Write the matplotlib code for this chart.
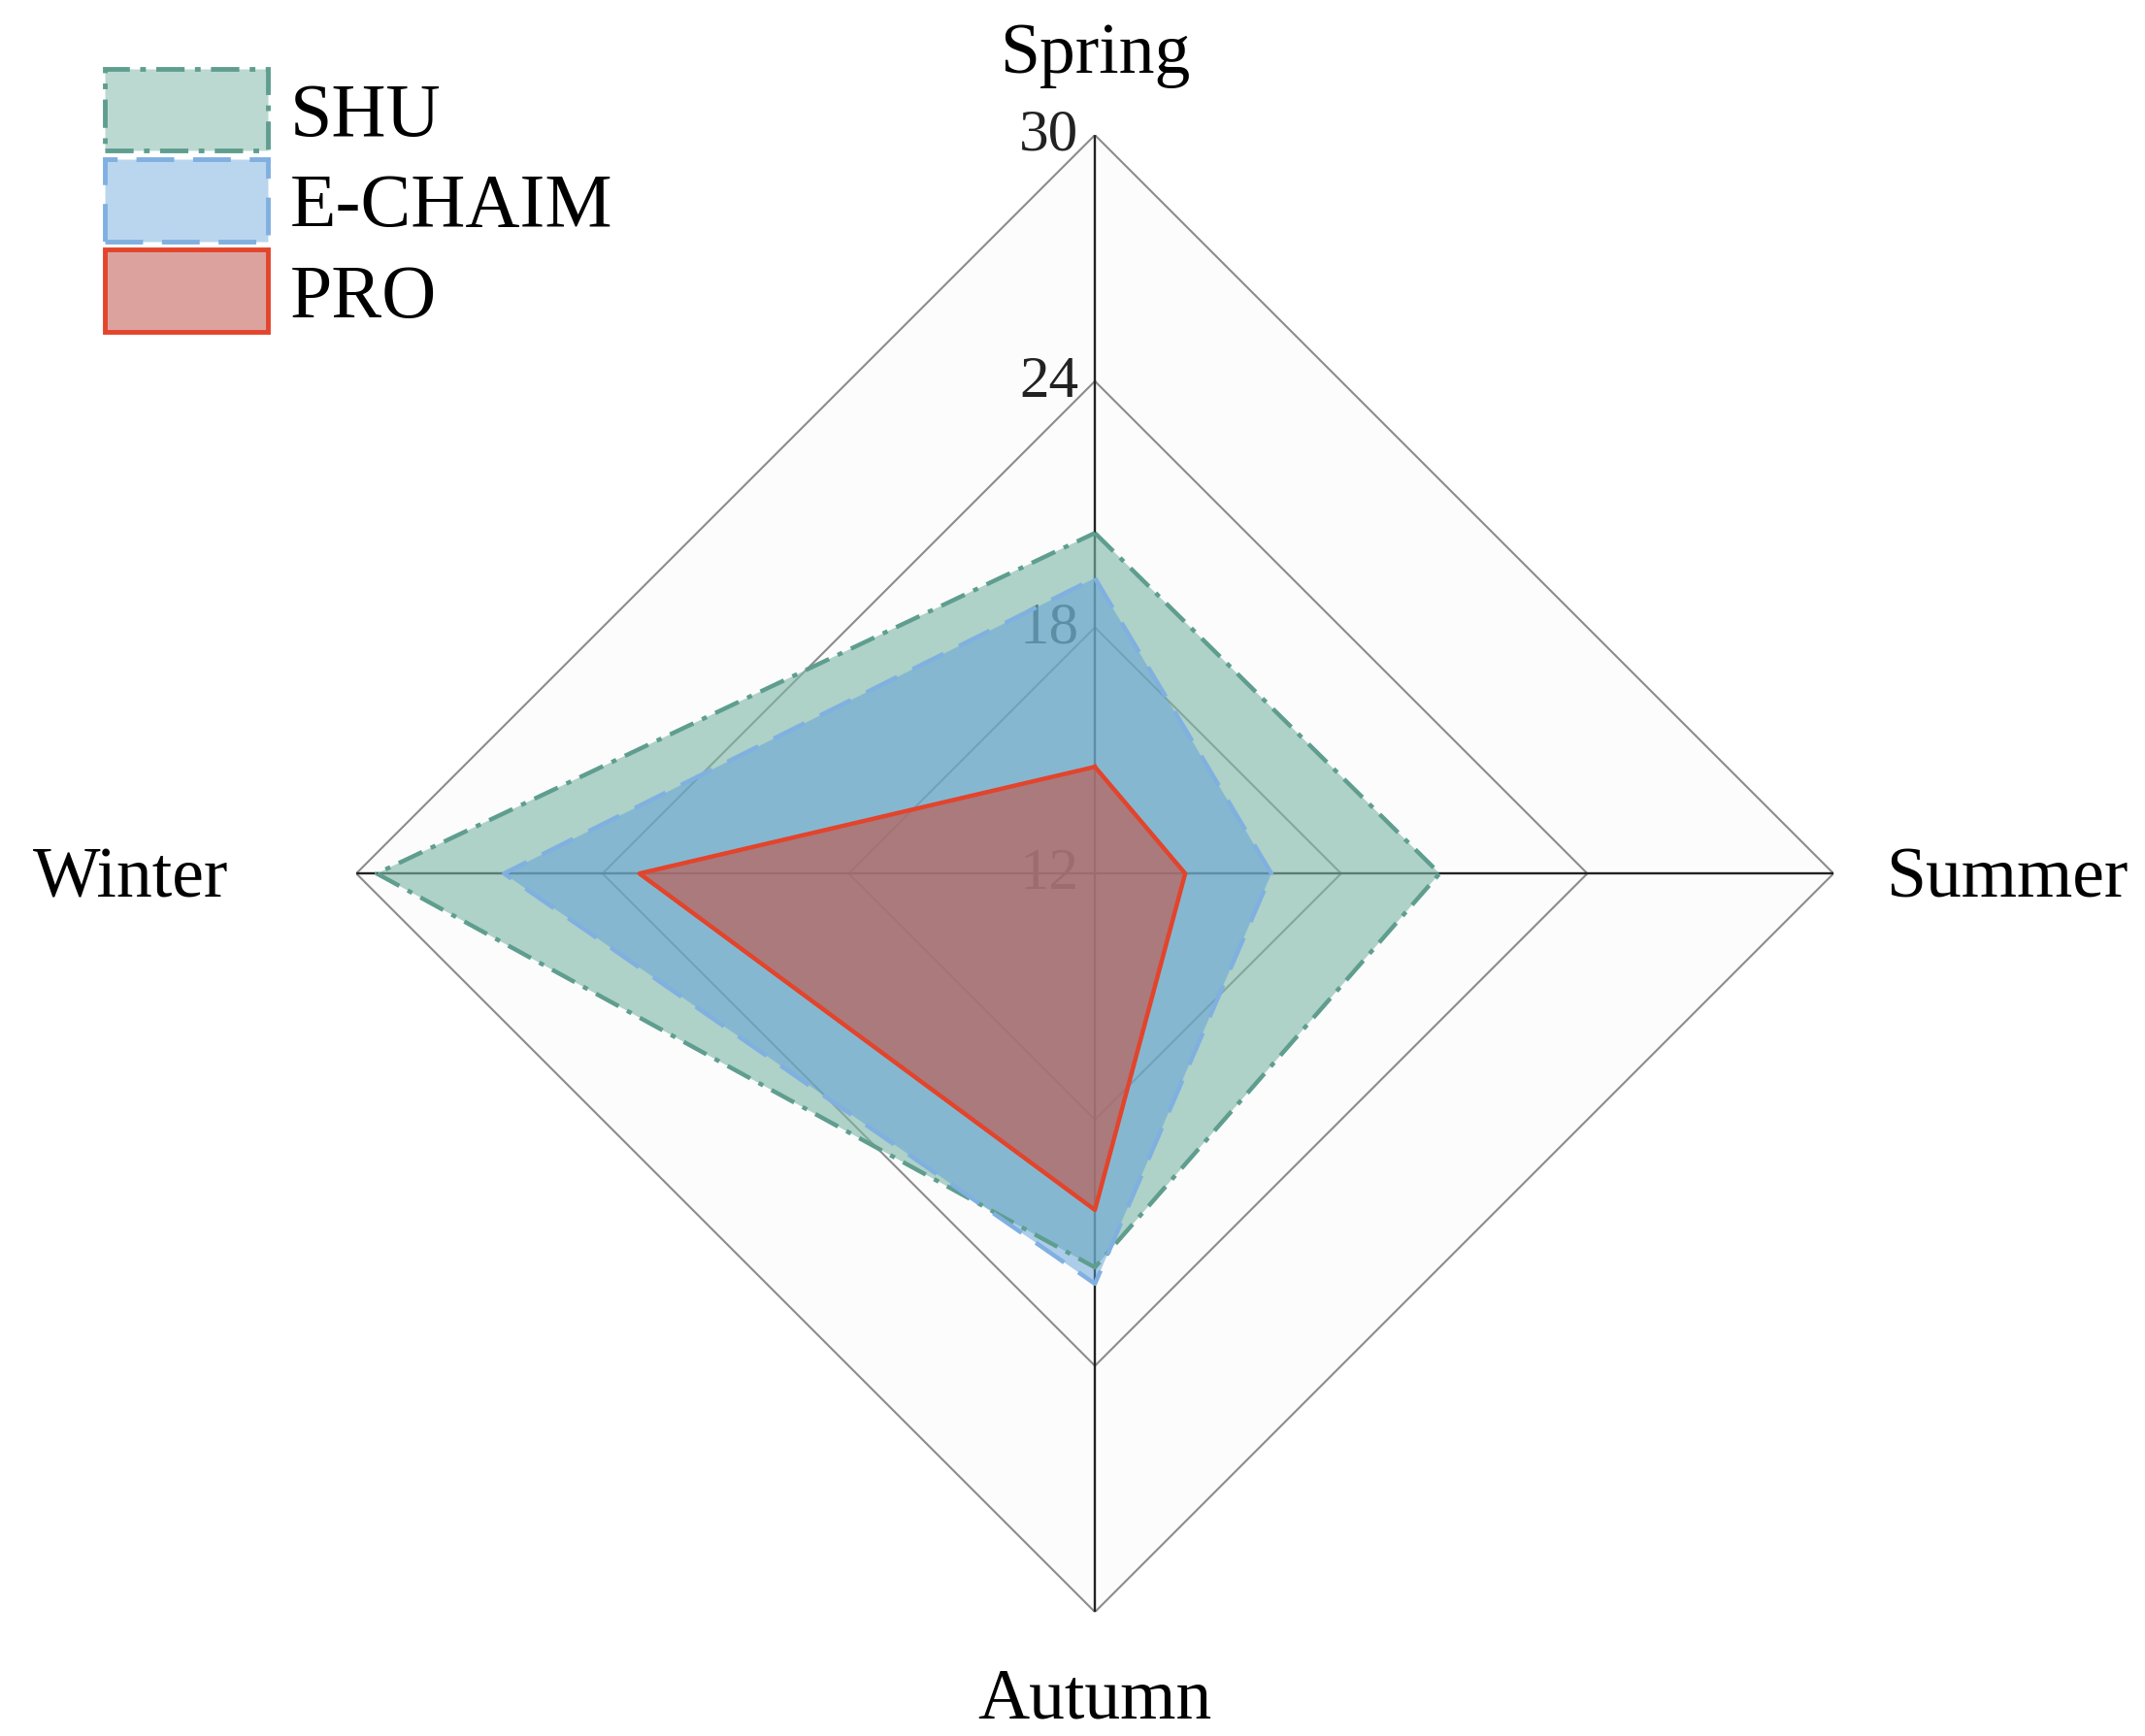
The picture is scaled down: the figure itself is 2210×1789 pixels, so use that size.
import numpy as np
import matplotlib.pyplot as plt
from matplotlib.patches import Patch
from matplotlib.colors import to_rgba

plt.rcParams['font.family'] = ['Liberation Serif', 'DejaVu Serif']

# data
seasons = ['Spring', 'Summer', 'Autumn', 'Winter']
shu = [20.3, 20.4, 21.6, 29.5]
echaim = [19.2, 16.3, 22.0, 26.4]
pro = [14.6, 14.2, 20.2, 23.1]
ring_values = [12, 18, 24, 30]

angles = np.linspace(0, 2 * np.pi, len(seasons), endpoint=False)
closed = np.append(angles, angles[0])

fig = plt.figure(figsize=(22.1, 17.9), dpi=100)
ax = fig.add_axes([0.1661, 0.0714, 0.6887, 0.8503], projection='polar')
ax.set_theta_zero_location('N')
ax.set_theta_direction(-1)
ax.set_rlim(12, 30)
ax.grid(False)
ax.set_xticks([])
ax.set_yticks([])
ax.spines['polar'].set_visible(False)
ax.patch.set_visible(False)

# faint background inside the outer ring
ax.fill(closed, [30] * len(closed), color='#fcfcfc', zorder=0)

# polygon rings
for r in ring_values[1:]:
    ax.plot(closed, [r] * len(closed), color='#8c8c8c', lw=1.5, zorder=1)

# spokes
for a in angles:
    ax.plot([a, a], [12, 30], color='#222222', lw=1.7, zorder=1)

# radial tick labels along the Spring axis (under the fills)
for r in ring_values:
    ax.annotate(str(r), xy=(0, r), xytext=(-12, 0), textcoords='offset points',
                ha='right', va='center', fontsize=44, color='#222222', zorder=1)

# series: name, values, fill, alpha, edge, dash pattern
series = [
    ('SHU', shu, '#7fb8a8', 0.62, '#5f9e8f', (0, (6, 2.2, 1.2, 2.2))),
    ('E-CHAIM', echaim, '#5da0d8', 0.5, '#7fb0e0', (0, (8, 4))),
    ('PRO', pro, '#c05a50', 0.65, '#e2442c', '-'),
]
handles = []
for name, vals, fc, alpha, ec, ls in series:
    v = np.append(vals, vals[0])
    ax.fill(closed, v, color=to_rgba(fc, alpha), lw=0, zorder=2)
    ax.plot(closed, v, color=ec, lw=3.2, ls=ls, zorder=3)
    handles.append(Patch(facecolor=to_rgba(fc, alpha * 0.85), edgecolor=ec, linestyle=ls,
                         linewidth=3.5, label=name))

# season labels
label_offsets = {
    'Spring': ((0, 47), 'center'),
    'Summer': ((39, -17), 'left'),
    'Autumn': ((0, -78), 'center'),
    'Winter': ((-95, -17), 'right'),
}
for a, s in zip(angles, seasons):
    off, ha = label_offsets[s]
    ax.annotate(s, xy=(a, 30), xytext=off, textcoords='offset points',
                ha=ha, va='baseline', fontsize=53, color='black',
                annotation_clip=False)

fig.legend(handles=handles, loc='upper left', bbox_to_anchor=(0.049, 0.960),
           frameon=False, fontsize=56, handlelength=2.15, handleheight=1.3,
           handletextpad=0.3, labelspacing=0.1, borderpad=0, borderaxespad=0)

fig.savefig('out.png', dpi=100, facecolor='white')
